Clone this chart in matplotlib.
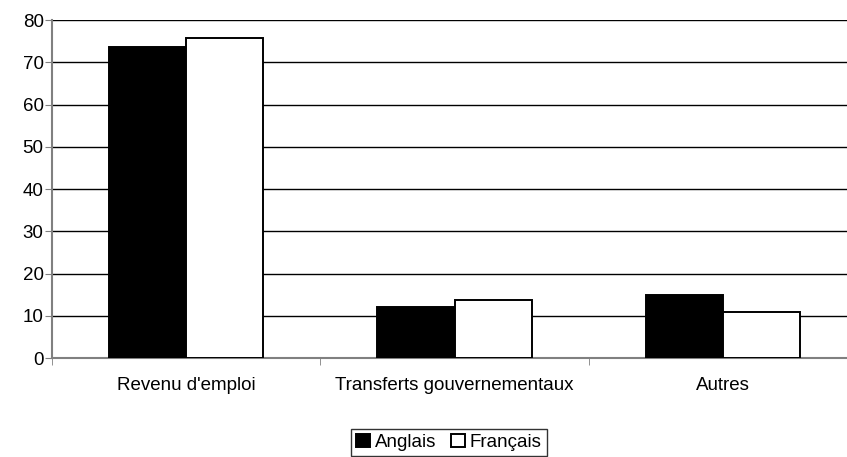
import numpy as np
import matplotlib.pyplot as plt

plt.rcParams['font.family'] = ['Liberation Sans', 'DejaVu Sans']

# Répartition du revenu selon la langue
categories = ["Revenu d'emploi", "Transferts gouvernementaux", "Autres"]
anglais = [73.6, 12.1, 15.0]
francais = [75.8, 13.7, 10.8]

fig = plt.figure(figsize=(8.47, 4.57), dpi=100)
# la zone de tracé déborde un peu à droite de l'image
ax = fig.add_axes([0.0614, 0.2166, 0.9504, 0.7396])

x = np.arange(len(categories))
w = 0.287
ax.bar(x - w / 2, anglais, w, color='black', edgecolor='black', linewidth=1.4,
       label='Anglais', zorder=3)
ax.bar(x + w / 2, francais, w, color='white', edgecolor='black', linewidth=1.4,
       label='Français', zorder=3)

ax.set_xlim(-0.5, len(categories) - 0.5)
ax.set_ylim(0, 80)
ax.set_yticks(range(0, 81, 10))
ax.yaxis.grid(True, color='black', linewidth=1)
ax.set_axisbelow(True)

# Catégories centrées, petites graduations aux limites
ax.set_xticks(x)
ax.set_xticklabels(categories, fontsize=13.5)
ax.tick_params(axis='x', length=0, pad=14)
ax.set_xticks(np.arange(-0.5, len(categories)), minor=True)
ax.tick_params(axis='x', which='minor', length=5, color='#808080')
ax.tick_params(axis='y', labelsize=13.5, length=5, color='#808080', pad=1)

for side in ['top', 'right']:
    ax.spines[side].set_visible(False)
for side in ['left', 'bottom']:
    ax.spines[side].set_color('#808080')
    ax.spines[side].set_linewidth(1.5)

leg = fig.legend(loc='lower center', bbox_to_anchor=(0.53, 0.002), ncol=2,
                 fontsize=13.5, frameon=True, fancybox=False, handlelength=0.75,
                 handleheight=0.75, handletextpad=0.25, columnspacing=0.8,
                 borderpad=0.27, borderaxespad=0)
leg.get_frame().set_edgecolor('black')
leg.get_frame().set_linewidth(1)

fig.savefig('out.png', dpi=100)
